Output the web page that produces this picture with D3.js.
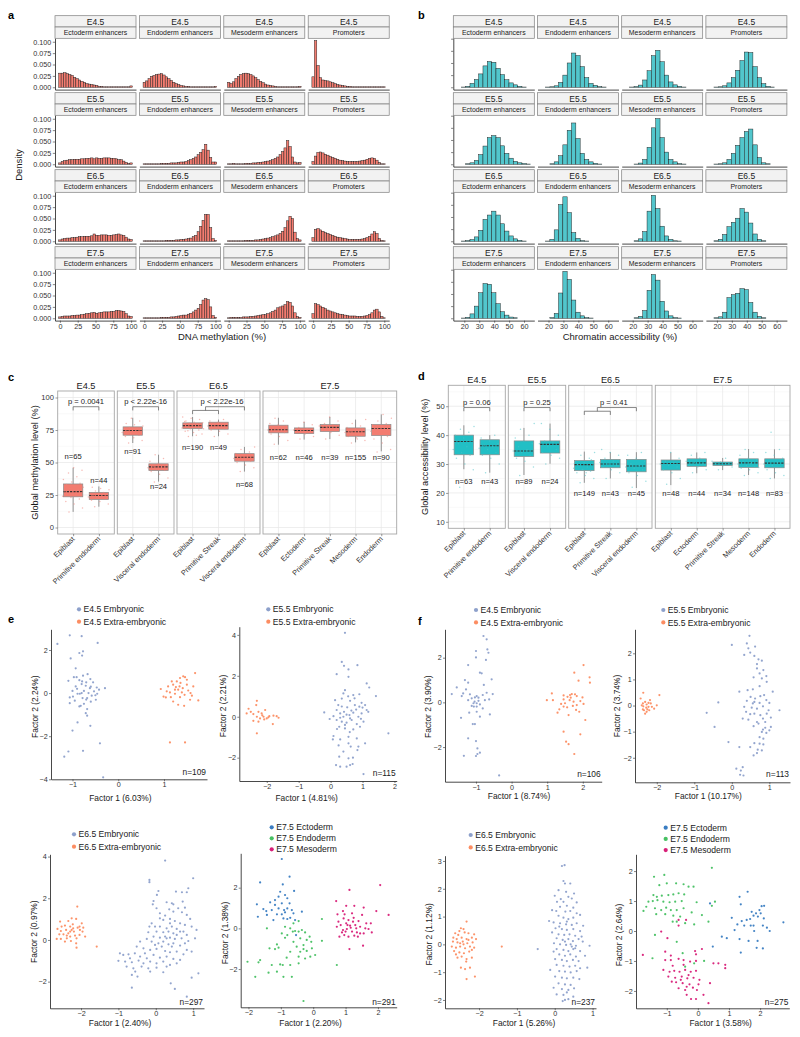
<!DOCTYPE html>
<html><head><meta charset="utf-8">
<script src="https://cdn.jsdelivr.net/npm/d3@7"></script>
<style>body{margin:0;background:#fff}svg{display:block}</style>
</head><body><svg id="fig" width="800" height="1037"></svg>
<script>
// ================= DATA =================
const stages = ["E4.5","E5.5","E6.5","E7.5"];
const contexts = ["Ectoderm enhancers","Endoderm enhancers","Mesoderm enhancers","Promoters"];

// Panel a: DNA methylation density, 30 bins over 0-100
const metTicks = [0,25,50,75,100];
const metDensTicks = [0,0.025,0.05,0.075,0.1];
const metE4_5 = [
 [0.031,0.031,0.032,0.030,0.028,0.026,0.022,0.019,0.016,0.013,0.011,0.008,0.007,0.006,0.005,0.004,0.002,0.002,0.001,0.001,0.001,0.001,0.001,0.001,0.001,0.001,0.001,0.001,0.001,0.003],
 [0.011,0.014,0.019,0.024,0.026,0.028,0.029,0.030,0.027,0.023,0.019,0.015,0.011,0.008,0.006,0.004,0.003,0.002,0.002,0.001,0.001,0.001,0.001,0.001,0.001,0.001,0.001,0.001,0.001,0.002],
 [0.011,0.008,0.012,0.019,0.024,0.028,0.030,0.031,0.030,0.028,0.025,0.021,0.017,0.013,0.010,0.007,0.005,0.004,0.003,0.002,0.001,0.001,0.001,0.001,0.001,0.001,0.001,0.001,0.001,0.002],
 [0.023,0.1025,0.048,0.021,0.016,0.015,0.014,0.012,0.010,0.008,0.006,0.005,0.004,0.003,0.002,0.002,0.001,0.001,0.001,0.001,0.001,0.001,0.001,0.001,0.001,0.001,0.001,0.001,0.001,0.001]];
const metE5_5 = [
 [0.003,0.006,0.008,0.009,0.010,0.010,0.011,0.011,0.011,0.012,0.012,0.013,0.013,0.014,0.012,0.014,0.013,0.013,0.014,0.014,0.014,0.013,0.013,0.012,0.010,0.010,0.007,0.004,0.002,0.003],
 [0.001,0.001,0.001,0.001,0.001,0.001,0.001,0.002,0.002,0.002,0.002,0.003,0.003,0.003,0.004,0.005,0.005,0.006,0.008,0.010,0.013,0.016,0.021,0.026,0.032,0.044,0.031,0.015,0.005,0.005],
 [0.001,0.001,0.002,0.001,0.001,0.001,0.001,0.002,0.002,0.002,0.003,0.003,0.004,0.004,0.005,0.006,0.007,0.008,0.010,0.013,0.016,0.021,0.028,0.036,0.052,0.039,0.016,0.005,0.003,0.004],
 [0.006,0.018,0.026,0.027,0.025,0.022,0.020,0.017,0.015,0.013,0.011,0.009,0.008,0.007,0.006,0.006,0.006,0.006,0.006,0.007,0.008,0.009,0.011,0.013,0.014,0.013,0.009,0.004,0.001,0.001]];
const metE6_5 = [
 [0.003,0.005,0.006,0.007,0.007,0.008,0.008,0.009,0.010,0.010,0.011,0.011,0.011,0.012,0.016,0.013,0.013,0.014,0.014,0.014,0.013,0.013,0.014,0.015,0.016,0.014,0.013,0.009,0.005,0.004],
 [0.001,0.001,0.001,0.001,0.001,0.001,0.001,0.001,0.001,0.002,0.002,0.002,0.002,0.003,0.003,0.004,0.004,0.005,0.006,0.007,0.010,0.013,0.021,0.033,0.046,0.059,0.059,0.030,0.006,0.002],
 [0.001,0.001,0.001,0.001,0.001,0.001,0.001,0.002,0.002,0.002,0.002,0.003,0.003,0.004,0.005,0.006,0.007,0.008,0.010,0.012,0.014,0.017,0.022,0.030,0.045,0.055,0.050,0.020,0.006,0.003],
 [0.008,0.026,0.028,0.025,0.022,0.019,0.017,0.015,0.013,0.011,0.009,0.008,0.007,0.006,0.005,0.004,0.004,0.004,0.004,0.004,0.005,0.006,0.008,0.011,0.016,0.021,0.017,0.006,0.002,0.001]];
const metE7_5 = [
 [0.003,0.004,0.005,0.005,0.005,0.006,0.006,0.007,0.007,0.008,0.009,0.010,0.011,0.012,0.013,0.011,0.012,0.013,0.014,0.014,0.014,0.015,0.015,0.017,0.017,0.016,0.015,0.010,0.005,0.004],
 [0.001,0.001,0.001,0.001,0.001,0.001,0.001,0.002,0.002,0.002,0.002,0.003,0.003,0.004,0.005,0.006,0.007,0.007,0.009,0.011,0.014,0.018,0.022,0.030,0.040,0.043,0.041,0.025,0.006,0.002],
 [0.001,0.002,0.002,0.002,0.002,0.002,0.003,0.003,0.003,0.004,0.004,0.005,0.006,0.007,0.008,0.008,0.010,0.012,0.015,0.018,0.023,0.025,0.027,0.030,0.037,0.035,0.027,0.012,0.004,0.002],
 [0.010,0.032,0.030,0.027,0.024,0.021,0.018,0.016,0.014,0.012,0.010,0.009,0.008,0.007,0.006,0.005,0.005,0.005,0.004,0.004,0.004,0.005,0.006,0.008,0.012,0.018,0.020,0.014,0.004,0.001]];

// Panel b: chromatin accessibility density, 17 bins of width 2.9 from 15.1
const accTicks = [20,30,40,50,60];
const accDensTicks = [0,0.05,0.1,0.15,0.2];
const accE4_5 = [
 [0,0.001,0.004,0.016,0.032,0.055,0.088,0.106,0.103,0.078,0.052,0.031,0.018,0.010,0.004,0.001,0],
 [0,0.001,0.002,0.006,0.020,0.050,0.100,0.141,0.131,0.085,0.040,0.016,0.008,0.003,0.001,0,0],
 [0,0.001,0.003,0.009,0.030,0.068,0.130,0.152,0.105,0.050,0.022,0.010,0.004,0.001,0,0,0],
 [0,0.001,0.002,0.006,0.018,0.040,0.070,0.110,0.145,0.143,0.085,0.040,0.015,0.004,0.001,0,0]];
const accE5_5 = [
 [0,0,0.002,0.006,0.016,0.040,0.075,0.110,0.118,0.110,0.076,0.045,0.025,0.012,0.006,0.003,0.001],
 [0,0,0.002,0.010,0.035,0.080,0.140,0.170,0.106,0.045,0.020,0.010,0.004,0.001,0,0,0],
 [0,0,0.001,0.005,0.020,0.070,0.150,0.188,0.110,0.050,0.020,0.010,0.003,0.001,0,0,0],
 [0,0.001,0.002,0.006,0.020,0.045,0.078,0.110,0.135,0.145,0.080,0.028,0.006,0.002,0,0,0]];
const accE6_5 = [
 [0,0.001,0.003,0.007,0.018,0.045,0.090,0.108,0.124,0.108,0.072,0.042,0.022,0.010,0.004,0.001,0],
 [0,0.001,0.008,0.047,0.151,0.183,0.118,0.036,0.012,0.003,0.001,0,0,0,0,0,0],
 [0,0,0.002,0.010,0.040,0.124,0.189,0.135,0.062,0.022,0.008,0.002,0.001,0,0,0,0],
 [0,0.002,0.008,0.028,0.060,0.078,0.095,0.135,0.120,0.075,0.030,0.008,0.002,0,0,0,0]];
const accE7_5 = [
 [0,0.001,0.004,0.018,0.050,0.105,0.143,0.140,0.105,0.060,0.027,0.013,0.005,0.002,0,0,0],
 [0,0,0.003,0.020,0.104,0.193,0.160,0.075,0.025,0.010,0.003,0.001,0,0,0,0,0],
 [0,0,0.002,0.008,0.032,0.115,0.180,0.157,0.070,0.030,0.010,0.003,0.001,0,0,0,0],
 [0,0.002,0.006,0.025,0.085,0.097,0.103,0.122,0.118,0.065,0.025,0.008,0.002,0,0,0,0]];

// Panels c, d: boxplots
const boxStages = ["E4.5","E5.5","E6.5","E7.5"];
const boxCats = [["Epiblast","Primitive endoderm"],["Epiblast","Visceral endoderm"],["Epiblast","Primitive Streak","Visceral endoderm"],["Epiblast","Ectoderm","Primitive Streak","Mesoderm","Endoderm"]];
// [lower whisker, q1, median, q3, upper whisker]
const metBoxStats = [[12,23.6,27.6,33.5,46],[16,21.6,24.6,27,31.6],[65,71,74.6,77.4,84.4],[35.3,43.8,46.6,49,56],[70.2,76.1,78.4,80.5,85],[70.2,75.6,78.4,81,83],[43,51,54,56.8,62],[63.7,72.8,75.2,78.7,84.4],[67.6,72.2,74.6,76.6,81.3],[68,73.8,77,79.2,85],[65.5,70.2,73.6,76.6,83],[58.6,70.7,76.2,79.2,87]];
const metN = [65,44,91,24,190,49,68,62,46,39,155,90];
const metNLabelY = [54.5,36.5,58.3,31.6,62,62,33.5,54.2,54.2,54.2,54.2,54.2];
const metPts = [
 [12,15,18,20,22,23,24,25,26,27,27.5,28,29,30,31,32,33,34,35,37,39,42,44,46],
 [16,18,20,21,22,23,23.5,24,24.5,25,25.5,26,27,28,29,30,31],
 [65,67,69,70,71,72,73,73.5,74,74.5,75,75.5,76,77,78,79,80,82,84],
 [35,38,41,43,44,45,46,46.5,47,48,49,51,53,56],
 [70,72,73,74,75,76,76.5,77,77.5,78,78.5,79,79.5,80,80.5,81,82,83,84,85,71,74.5,78,79,81.5,77,80,76],
 [70,72,74,75,76,77,78,78.5,79,80,81,82,83],
 [43,46,48,50,51,52,53,54,55,55.5,56,57,58,60,62],
 [64,67,70,72,73,74,75,76,77,78,79,80,82,84],
 [68,70,72,73,74,74.5,75,76,77,79,81],
 [68,71,73,75,76,77,78,79,80,82,85],
 [65,67,69,70,71,72,73,73.5,74,75,76,77,78,80,83,68,72.5,75.5],
 [58,60,65,68,70,72,74,75,76,77,78,79,80,82,84,87]];
const metP = ["p = 0.0041","p < 2.22e-16","p < 2.22e-16"];
const metTicksY = [0,25,50,75,100];

const accBoxStats = [[28.2,33.2,37.8,40,43.4],[27,33.2,36.3,38.4,40],[26.2,32.6,34.5,38,42.5],[30.1,33.8,36.8,38,44],[23.5,27.7,29.8,31.2,34.3],[25,28.7,30,31.6,34.1],[21.7,27.3,29.3,31.6,34.1],[22.7,27.9,30.2,31.4,34],[26.8,29.2,30.4,31.8,34],[27.9,29.5,30.1,30.7,32.1],[26.2,28.8,30.4,31.8,35.2],[25,28.7,30.3,31.8,35.1]];
const accN = [63,43,89,24,149,43,45,48,44,34,148,83];
const accNLabelY = [23.9,23.9,23.9,23.9,19.8,19.8,19.8,19.8,19.8,19.8,19.8,19.8];
const accPts = [
 [22,28,30,32,33,34,35,36,37,38,39,40,41,42,43],
 [27,30,32,33,34,35,35.5,36,36.5,37,38,39,40],
 [26,29,31,32,33,34,34.5,35,36,37,38,39,40,42,44],
 [30,32,33,34,35,36,37,37.5,38,40,42,44],
 [23.5,25,26,27,27.5,28,28.5,29,29.5,30,30.5,31,32,33,34,27,29.8,31.5,28.2,30.2],
 [25,27,28,29,29.5,30,30.5,31,32,33,34,35],
 [22,24,26,27,28,28.5,29,29.5,30,31,32,33,34],
 [23,25,27,28,29,29.5,30,30.5,31,32,34],
 [27,28,29,29.5,30,30.5,31,32,33,34],
 [28,29,29.5,30,30.3,30.7,31,32],
 [26,27,28,28.5,29,29.5,30,30.5,31,31.5,32,33,34,35,28.8,30.2],
 [25,26,27,28,29,29.5,30,30.5,31,32,33,34,35,41]];
const accP = ["p = 0.06","p = 0.25","p = 0.41"];
const accTicksY = [10,20,30,40,50];

// Panels e, f: factor scatter plots
const eE45Emb = [[-1.33,2.28],[-1.06,2.68],[-0.8,2.64],[-0.45,2.33],[-0.77,1.94],[-0.85,1.86],[-0.79,1.74],[-1.04,1.61],[-0.93,1.15],[-0.97,0.74],[-0.91,0.74],[-1.09,0.57],[-0.77,0.81],[-0.67,0.88],[-0.61,0.65],[-0.79,0.54],[-0.8,0.42],[-0.93,0.31],[-0.71,0.34],[-0.62,0.23],[-0.47,0.26],[-0.29,0.23],[-0.42,0.16],[-0.53,0.08],[-0.84,-0.03],[-0.89,-0.03],[-1.06,-0.2],[-0.99,-0.16],[-0.78,-0.23],[-0.68,-0.23],[-0.58,-0.12],[-0.46,-0.03],[-0.49,-0.31],[-1.06,-0.47],[-0.82,-0.59],[-0.85,-0.62],[-0.68,-0.74],[-0.71,-0.93],[-0.68,-1.05],[-0.89,-1.36],[-0.61,-1.52],[-1.0,-1.74],[-0.4,-2.33],[-1.09,-2.71],[-1.18,-2.95],[-0.77,-2.68],[-0.33,-3.91],[-0.7,0.5],[-0.75,0.1],[-0.9,0.2],[-0.6,-0.4],[-0.55,0.5],[-0.95,-0.35],[-0.7,-0.3],[-0.8,0.0],[-0.65,0.0],[-0.85,0.6],[-1.0,0.1],[-0.5,-0.1],[-0.75,-0.5],[-0.6,0.3]];
const eE45Ext = [[0.93,0.19],[0.99,-0.16],[1.04,-0.2],[1.13,0.03],[1.17,0.54],[1.2,0.39],[1.26,0.28],[1.31,0.16],[1.24,-0.03],[1.35,0.7],[1.42,0.78],[1.46,0.74],[1.36,0.47],[1.41,0.23],[1.5,0.39],[1.53,0.12],[1.58,0],[1.45,-0.08],[1.35,-0.19],[1.2,-0.39],[1.31,-0.54],[1.44,-0.59],[1.57,-0.31],[1.68,0.93],[1.75,-0.34],[1.64,0.31],[1.09,0.31],[1.06,0.08],[1.15,-0.19],[1.28,0.54],[1.5,0.62],[1.39,0.03],[1.13,-2.29],[1.46,-2.29],[1.24,0.16],[1.61,-0.12],[1.34,0.31]];
const eE55Emb = [[0.45,4.1],[0.35,2.68],[0.42,2.49],[0.56,2.31],[0.19,2.08],[0.84,2.52],[0.56,1.95],[1.13,1.63],[1.21,1.43],[1.42,1.01],[0.45,1.3],[0.4,1.14],[0.71,1.06],[0.14,0.81],[0.35,0.89],[0.61,0.78],[0.97,0.68],[1.08,0.57],[0.9,0.49],[1.13,0.33],[0.76,0.57],[0.52,0.46],[0.24,0.57],[0.19,0.33],[-0.2,0.21],[-0.03,-0.11],[0.09,0.03],[0.3,0.16],[0.42,0.24],[0.59,0.08],[0.71,0.2],[0.87,0],[0.97,0.16],[1.18,0.24],[0.19,-0.16],[0.35,-0.24],[0.5,-0.29],[0.66,-0.16],[0.82,-0.36],[1.03,-0.24],[0.27,-0.49],[0.45,-0.57],[0.71,-0.62],[0.92,-0.49],[0.09,-0.94],[0.3,-1.11],[0.56,-0.98],[0.82,-1.06],[1.08,-1.3],[0.07,-1.11],[0.56,-1.3],[0.63,-1.46],[0.84,-1.63],[0.87,-1.46],[0.27,-1.95],[0.56,-2.03],[0.17,-2.36],[0.3,-2.44],[0.5,-2.44],[0.61,-2.36],[0.69,-2.31],[1.03,-2.8],[1.81,-0.81],[0.5,0.1],[0.65,0.3],[0.3,-0.05],[0.8,0.35],[0.45,-0.4],[0.95,-0.1],[0.2,-0.6],[0.6,-0.75],[0.75,0.9],[0.35,0.5],[0.55,1.0],[0.9,1.1],[0.25,-1.4],[0.7,-2.0],[0.4,-1.7],[1.0,0.45],[0.4,0.0],[0.61,-0.08]];
const eE55Ext = [[-2.57,0.39],[-2.5,0.24],[-2.63,0.16],[-2.31,0.78],[-2.33,0.57],[-2.26,0.24],[-2.31,0],[-2.42,-0.2],[-2.16,0.16],[-2.1,0],[-2.05,0.33],[-2.0,-0.08],[-1.92,0.03],[-1.79,0.05],[-1.69,0.03],[-1.63,-0.05],[-1.81,-0.36],[-2.31,-0.81],[-2.21,-0.08],[-2.08,-0.13],[-1.95,-0.03],[-2.26,-0.24],[-2.42,0.13],[-2.14,0.07]];
const eE65Emb = [[0.25,3.81],[1.0,2.96],[-0.17,2.88],[-0.17,2.77],[0.07,2.35],[0.54,2.32],[0.83,2.29],[0.7,2.29],[0.87,2.48],[0.03,2.16],[-0.06,1.87],[-0.08,1.71],[0.29,1.81],[0.43,1.76],[0.47,1.71],[0.72,1.84],[0.78,1.55],[0.6,1.52],[0.36,1.47],[0.11,1.28],[0.25,1.17],[0.47,1.36],[0.7,1.33],[0.83,1.2],[0.92,1.01],[-0.11,0.8],[-0.17,0.64],[0.2,0.96],[0.38,1.01],[0.51,0.91],[0.65,0.8],[0.78,0.72],[0.96,0.64],[1.09,0.48],[0.11,0.64],[0.29,0.56],[0.43,0.64],[0.56,0.53],[0.02,0.4],[0.2,0.37],[0.34,0.4],[0.47,0.32],[0.65,0.4],[0.83,0.24],[-0.06,0.16],[0.11,0.11],[0.25,0.16],[0.38,0.11],[0.51,0.05],[0.69,0.08],[0.87,-0.05],[1.05,0.08],[-0.24,0.05],[-0.11,-0.08],[0.07,-0.16],[0.2,-0.08],[0.34,-0.21],[0.47,-0.16],[0.65,-0.27],[0.78,-0.16],[-0.42,-0.08],[-0.51,-0.32],[-0.33,-0.4],[-0.15,-0.48],[0.02,-0.43],[0.25,-0.53],[0.38,-0.59],[0.56,-0.56],[0.74,-0.69],[0.96,-0.56],[-0.56,-0.64],[-0.73,-0.69],[-0.87,-0.72],[-0.69,-0.88],[-0.42,-0.8],[-0.24,-0.88],[-0.06,-0.72],[0.11,-0.85],[0.29,-0.8],[0.47,-0.91],[0.65,-0.96],[-1.0,-1.0],[-0.82,-1.04],[-0.64,-1.07],[-0.46,-0.99],[-0.33,-1.12],[-0.15,-1.04],[0.02,-1.12],[0.2,-1.04],[0.38,-1.2],[0.56,-1.12],[-0.78,-1.28],[-0.6,-1.36],[-0.38,-1.28],[-0.2,-1.36],[0.02,-1.33],[0.29,-1.28],[-0.55,-1.52],[-0.64,-1.68],[-0.49,-1.76],[-0.15,-1.52],[0.2,-1.55],[-0.64,-2.29],[0.4,-2.08],[0.51,-2.35],[0.96,-1.81],[1.14,-1.6],[0.83,-2.72],[-0.96,-0.64],[-0.02,0.64],[-0.2,0.37],[0.56,0.24],[0.29,0.08],[0.43,-0.32],[0.16,-0.32],[0.83,-0.48],[-0.02,-0.24],[-0.29,-0.64],[0.74,0.4],[0.38,0.8],[0.11,1.04],[0.02,1.52]];
const eE65Ext = [[-2.1,1.6],[-2.56,0.88],[-2.34,0.91],[-2.25,1.04],[-2.13,1.01],[-1.98,0.8],[-2.43,0.69],[-2.29,0.64],[-2.21,0.56],[-2.09,0.59],[-2.63,0.53],[-2.54,0.43],[-2.4,0.48],[-2.29,0.4],[-2.25,0.48],[-2.19,0.4],[-2.03,0.48],[-1.96,0.4],[-2.47,0.27],[-2.34,0.32],[-2.16,0.21],[-1.89,0.16],[-2.65,0.05],[-2.54,0.05],[-2.38,0.08],[-2.27,-0.05],[-2.13,-0.16],[-2.43,-0.08],[-2.12,-0.37],[-1.58,-0.32],[-2.04,0.24],[-2.22,0.75],[-2.38,0.21],[-2.04,0.64],[-2.52,0.64],[-2.12,0.08],[-2.29,0.16],[-2.58,0.27],[-1.94,0.59]];
const eE75Ecto = [[-0.97,3.41],[-0.73,2.54],[-1.64,2.26],[-0.94,2.16],[-0.59,1.84],[-0.87,1.64],[-1.07,1.56],[-0.8,1.48],[-1.74,1.18],[-1.33,1.28],[-1.18,1.15],[-0.97,1.23],[-0.73,1.23],[-1.54,0.95],[-1.28,0.9],[-1.07,0.98],[-0.9,0.9],[-0.8,0.98],[-0.61,0.74],[-0.35,0.82],[-1.71,0.57],[-1.43,0.66],[-1.23,0.41],[-0.92,0.49],[-0.8,0.46],[-0.71,0.52],[-0.56,0.41],[-0.97,0.69],[-1.12,0.69],[-1.45,0.85],[-0.53,-0.33],[-0.87,0.79],[-0.66,0.9],[-1.18,1.39],[-1.02,1.8]];
const eE75Endo = [[0.27,0.46],[-1.43,0],[-0.87,0.08],[-0.61,0.25],[-0.45,0.36],[-0.71,0],[-0.63,-0.16],[-0.56,-0.13],[-0.45,-0.16],[-0.35,-0.08],[-0.25,-0.2],[-0.11,-0.41],[0.27,-0.61],[-0.97,-0.25],[-0.87,-0.46],[-0.4,-0.49],[-0.2,-0.57],[-0.06,-0.66],[-1.12,-0.79],[-1.35,-0.98],[-1.18,-1.02],[-1.07,-0.95],[-0.51,-0.9],[-0.3,-1.02],[-0.04,-0.98],[-0.71,-1.15],[-0.4,-1.15],[-0.2,-1.11],[0.06,-1.31],[-0.45,-1.39],[-0.25,-1.48],[-0.09,-1.39],[-1.64,-1.56],[-1.69,-1.67],[-2.03,-1.64],[-1.28,-1.8],[-1.02,-1.77],[-0.94,-1.8],[-0.71,-1.8],[-0.45,-1.72],[0.73,-1.8],[-1.38,-2.18],[-1.12,-2.13],[-1.79,-2.38],[-0.92,-2.38],[-0.66,-2.38],[-0.3,-3.57],[-0.8,-0.33],[-0.61,-0.66],[-0.3,-0.82],[-0.82,-1.44]];
const eE75Meso = [[2.07,2.13],[1.12,1.89],[0.71,1.34],[1.02,1.11],[1.27,1.11],[1.56,1.02],[1.95,0.85],[2.33,0.66],[0.92,0.85],[1.2,0.74],[1.51,0.66],[0.94,0.49],[1.09,0.41],[1.25,0.52],[1.4,0.36],[1.78,0.25],[0.78,0.33],[0.85,0.16],[1.02,0.25],[1.14,0.13],[1.3,0.16],[1.45,0.08],[1.61,0],[1.71,-0.03],[1.81,-0.2],[0.73,0.08],[0.92,-0.08],[1.04,-0.03],[1.2,-0.16],[1.35,-0.2],[1.45,-0.25],[0.81,-0.41],[0.96,-0.33],[1.09,-0.41],[1.27,-0.36],[1.54,-0.85],[1.12,-1.02],[1.0,-0.16],[1.16,0.03],[1.33,0],[1.56,-0.25],[0.89,-0.2],[1.06,0.16],[1.23,0.33],[0.97,0.69],[1.38,-0.41],[1.64,0.25],[0.75,0.69]];

const fE45Emb = [[-0.79,2.97],[-0.7,2.82],[-0.68,2.37],[-0.65,2.22],[-1.0,2.3],[-1.0,2.01],[-0.72,1.9],[-1.22,1.67],[-0.89,1.33],[-0.84,1.3],[-1.31,1.0],[-0.56,1.03],[-1.22,0.88],[-1.54,0.67],[-1.28,0.58],[-0.78,0.78],[-1.68,0.37],[-1.36,0.4],[-1.4,0.28],[-0.98,0.28],[-1.03,0.22],[-0.93,0.21],[-0.81,0.33],[-0.7,0.43],[-0.53,0.37],[-0.75,0.1],[-0.63,0.13],[-1.22,0.1],[-1.07,-0.04],[-0.98,-0.04],[-1.12,-0.16],[-1.06,-0.19],[-0.98,-0.19],[-0.89,-0.09],[-1.19,-0.46],[-0.98,-0.42],[-0.89,-0.64],[-0.61,-0.54],[-1.42,-0.69],[-1.09,-0.97],[-1.03,-0.97],[-1.22,-1.61],[-1.0,-1.73],[-0.96,-2.06],[-0.89,-2.25],[-0.96,-2.31],[-1.34,-2.39],[-1.0,-2.4],[-0.35,-3.27],[-1.04,0.03],[-0.93,0.07],[-1.12,0.18],[-0.81,-0.27],[-1.17,0.36]];
const fE45Ext = [[2.02,1.67],[1.76,1.33],[2.19,1.12],[1.88,0.97],[2.2,0.88],[1.13,0.4],[0.99,0.1],[1.16,0.1],[1.46,0.31],[1.57,0.25],[1.64,0.33],[1.78,0.36],[1.83,0.28],[1.99,0.22],[1.46,0.13],[1.63,0.1],[1.74,0.03],[1.93,0.06],[1.5,-0.04],[1.46,-0.19],[1.56,-0.22],[1.72,-0.16],[1.29,-0.46],[1.6,-0.57],[1.9,-0.42],[1.81,-0.34],[2.07,-0.79],[1.46,-1.31],[1.93,-1.43],[1.53,-1.76],[1.6,-1.87],[1.76,-2.31],[1.66,0.21],[1.39,-0.07],[1.83,-0.12],[1.69,0.37],[2.02,-0.07],[1.34,-0.31]];
const fE55Emb = [[0.47,2.67],[0.0,2.32],[0.4,2.38],[0.44,2.19],[0.62,2.26],[0.33,1.94],[0.49,2.03],[0.6,1.9],[0.71,1.77],[0.8,1.72],[0.67,1.59],[0.67,1.42],[0.84,1.36],[0.74,1.23],[0.92,1.13],[0.58,1.08],[0.8,1.04],[0.93,0.91],[0.74,0.74],[0.56,0.62],[0.2,0.53],[1.09,0.53],[0.5,0.33],[0.62,0.27],[0.76,0.36],[0.86,0.4],[0.92,0.21],[-0.36,0.12],[0.4,0.18],[0.6,0.14],[0.74,0.1],[1.0,0.1],[0.33,-0.05],[0.53,-0.08],[0.67,-0.12],[0.83,-0.03],[0.98,-0.18],[1.27,-0.18],[0.38,-0.24],[0.49,-0.33],[0.6,-0.31],[0.76,-0.37],[0.93,-0.31],[-0.67,-0.28],[0.29,-0.5],[0.44,-0.54],[0.67,-0.63],[0.83,-0.5],[1.04,-0.46],[-0.46,-0.82],[0.58,-0.79],[0.83,-0.92],[0.89,-0.85],[1.04,-0.82],[0.8,-1.01],[0.92,-1.05],[1.0,-0.95],[0.74,-1.21],[0.84,-1.27],[0.6,-1.44],[0.74,-1.46],[0.84,-1.49],[0.49,-1.59],[0.69,-1.69],[0.8,-1.72],[0.58,-1.91],[0.67,-1.82],[-0.09,-1.4],[0.2,-1.59],[0.12,-2.42],[0.24,-2.49],[0.29,-2.36],[0.31,-2.68],[0.22,-2.65],[0.42,0.59],[0.56,0.08],[0.89,-0.63],[0.71,-0.69]];
const fE55Ext = [[-2.36,0.49],[-2.43,0.27],[-2.31,0.14],[-2.37,0.08],[-2.27,0.04],[-2.22,0.1],[-2.16,0.08],[-2.36,-0.03],[-2.28,-0.08],[-2.22,-0.05],[-2.13,-0.05],[-2.07,-0.12],[-2.0,0.01],[-2.34,-0.18],[-2.27,-0.24],[-2.31,-0.31],[-2.37,-0.15],[-1.93,0.4],[-2.18,0.21],[-2.25,-0.15],[-2.4,0.01],[-2.2,-0.18]];
const fE65Emb = [[0.26,2.85],[0.19,2.82],[0.23,2.28],[0.27,2.19],[0.41,2.19],[0.1,1.95],[0.3,1.89],[0.51,1.83],[0.0,1.75],[0.36,1.71],[0.45,1.65],[0.06,1.53],[0.23,1.53],[0.58,1.51],[0.14,1.35],[0.32,1.39],[0.49,1.32],[-0.07,1.23],[0.04,1.2],[0.28,1.18],[0.41,1.2],[0.58,1.12],[0.67,1.06],[0.1,1.03],[0.23,0.96],[0.36,0.91],[0.49,0.96],[-0.15,0.84],[-0.03,0.79],[0.14,0.76],[0.3,0.72],[0.45,0.7],[0.58,0.76],[0.75,0.67],[0.02,0.58],[0.19,0.55],[0.32,0.52],[0.49,0.55],[0.67,0.48],[-0.07,0.43],[0.1,0.36],[0.25,0.34],[0.39,0.36],[0.54,0.31],[0.05,0.22],[0.21,0.16],[0.36,0.19],[0.48,0.12],[0.63,0.19],[0.74,0.1],[-0.02,0.04],[0.14,0.0],[0.3,-0.02],[0.42,0.0],[0.56,-0.05],[0.92,-0.05],[-0.45,-0.17],[0.05,-0.17],[0.23,-0.2],[0.36,-0.24],[0.49,-0.17],[0.67,-0.24],[0.12,-0.36],[0.27,-0.41],[0.41,-0.36],[0.56,-0.44],[0.01,-0.53],[0.19,-0.56],[0.32,-0.6],[0.48,-0.56],[0.63,-0.6],[0.05,-0.74],[0.23,-0.77],[0.39,-0.8],[0.54,-0.77],[0.86,-0.84],[0.12,-0.96],[0.27,-0.98],[0.42,-1.01],[0.58,-0.96],[0.01,-1.16],[0.19,-1.2],[0.32,-1.22],[0.49,-1.2],[0.65,-1.25],[0.1,-1.4],[0.27,-1.44],[0.42,-1.46],[-0.03,-1.56],[0.19,-1.61],[0.36,-1.64],[0.51,-1.58],[0.05,-1.8],[0.23,-1.82],[0.32,-1.73],[0.21,-2.04],[0.27,-2.0],[0.36,-1.97],[0.49,-1.88],[0.54,-0.14],[-0.03,-0.26],[0.71,0.28],[0.32,0.82],[0.16,1.63],[0.45,-0.08],[0.27,0.1],[0.12,0.64],[0.8,-0.41],[0.67,-0.86],[-0.12,-0.92]];
const fE65Ext = [[-2.33,0.82],[-2.48,0.58],[-2.41,0.55],[-2.52,0.48],[-2.38,0.43],[-2.63,0.4],[-2.55,0.34],[-2.28,0.4],[-2.13,0.36],[-2.68,0.24],[-2.59,0.19],[-2.46,0.24],[-2.33,0.19],[-2.19,0.24],[-2.08,0.19],[-2.69,0.1],[-2.57,0.07],[-2.43,0.1],[-2.31,0.04],[-2.17,0.07],[-2.72,-0.08],[-2.61,-0.12],[-2.5,-0.08],[-2.37,-0.14],[-2.24,-0.08],[-2.13,-0.12],[-2.66,-0.24],[-2.52,-0.29],[-2.4,-0.32],[-2.26,-0.26],[-2.57,-0.48],[-2.46,-0.44],[-2.33,-0.53],[-2.19,-0.48],[-2.34,-0.62],[-2.48,-0.84],[-2.37,-0.89],[-2.24,-0.84],[-2.11,-1.16],[-2.33,-1.25],[-1.4,-0.08],[-2.41,0.0],[-2.28,0.16],[-2.5,0.04],[-2.19,-0.2],[-2.61,-0.36]];
const fE75Ecto = [[1.6,1.31],[1.34,1.14],[1.38,0.89],[1.73,0.64],[1.87,0.59],[2.02,0.59],[1.98,0.7],[2.05,0.83],[2.13,0.84],[1.79,0.51],[1.93,0.48],[2.12,0.42],[1.09,0.44],[1.41,0.33],[1.68,0.4],[1.27,0.22],[1.49,0.18],[1.79,0.18],[2.09,0.18],[2.22,0.11],[2.31,0.0],[2.75,0.29],[1.18,0.03],[1.81,0.0],[1.34,-0.27],[1.63,-0.33],[1.92,-0.33],[1.38,-0.72],[1.89,-0.56],[2.09,-0.58],[0.77,-0.19],[0.93,-0.24],[0.48,-0.52],[0.39,0.92],[1.57,0.37],[1.7,0.18]];
const fE75Endo = [[0.45,2.11],[-1.41,1.81],[-1.08,1.87],[-1.24,1.53],[-1.0,1.59],[-0.7,1.59],[-0.46,1.56],[-0.3,1.48],[-0.14,1.48],[-1.43,1.2],[-1.32,1.14],[-1.16,1.18],[-0.95,1.2],[-0.79,1.22],[-0.62,1.26],[-0.44,1.22],[-1.59,0.98],[-1.45,1.0],[-1.3,1.03],[-1.11,0.98],[-0.91,0.96],[-0.73,0.98],[-0.52,1.0],[-0.04,0.96],[0.55,0.98],[0.45,0.84],[-1.66,0.81],[-1.75,0.67],[-1.38,0.76],[-1.18,0.7],[-1.02,0.78],[-0.87,0.7],[-0.68,0.7],[-0.46,0.76],[-0.2,0.62],[0.13,0.53],[-1.34,0.56],[-1.05,0.56],[-0.79,0.51],[-0.57,0.48],[-0.81,0.31],[-0.68,0.31],[-0.41,0.26],[-0.12,0.22],[0.34,0.31],[-1.38,-0.13],[-0.68,-0.36],[-0.49,-0.74],[-1.46,-0.91],[-0.41,-1.19],[0.2,-1.0],[-0.12,-1.08]];
const fE75Meso = [[-0.62,0.37],[-0.38,0.37],[-0.62,0.18],[-1.18,-0.02],[-0.98,-0.24],[-1.77,-0.8],[-0.09,-0.67],[0.13,-0.6],[-0.06,-0.78],[-1.05,-0.69],[-0.87,-0.82],[-1.05,-0.97],[-0.87,-0.97],[-0.62,-0.93],[-0.46,-0.97],[-0.25,-1.02],[-0.06,-1.0],[0.66,-1.08],[0.88,-1.24],[0.88,-1.13],[0.5,-1.08],[-1.11,-1.3],[-0.91,-1.36],[-0.76,-1.33],[-0.59,-1.36],[-0.41,-1.3],[-0.23,-1.36],[-0.06,-1.33],[-0.95,-1.52],[-0.73,-1.56],[-0.52,-1.52],[-0.34,-1.58],[-0.14,-1.56],[0.05,-1.63],[-0.7,-1.71],[-0.49,-1.74],[-0.27,-1.78],[0.02,-1.78],[0.39,-1.74],[-0.62,-1.91],[-0.41,-1.97],[-0.16,-1.89],[-0.36,-2.13],[-0.22,-2.27],[-0.06,-2.27],[0.18,-2.13],[0.34,-2.41],[-0.46,-1.13],[-0.81,-1.16],[-0.3,-1.47],[-0.55,-1.63],[-0.84,-1.69],[-0.03,-1.97],[-0.36,-1.86]];

const colEmb = "#8DA0CB", colExt = "#FC8D62", colEcto = "#3A7DC2", colEndo = "#46C062", colMeso = "#D81F78";

// ================= DRAWING =================
const FONT = '"Liberation Sans", Arial, Helvetica, sans-serif';
const svg = d3.select("#fig").attr("font-family", FONT);

function txt(g, x, y, s, size, opt = {}) {
  const t = g.append("text").attr("x", x).attr("y", y).text(s)
    .attr("font-size", size).attr("fill", opt.fill || "#1a1a1a")
    .attr("text-anchor", opt.anchor || "start");
  if (opt.weight) t.attr("font-weight", opt.weight);
  if (opt.rotate !== undefined) t.attr("transform", `rotate(${opt.rotate},${x},${y})`);
  return t;
}
function styleAxis(g, fs) {
  g.selectAll("text").attr("font-size", fs).attr("fill", "#333").attr("font-family", FONT);
  g.selectAll(".tick line").attr("stroke", "#333").attr("stroke-width", 0.6);
  g.select(".domain").attr("stroke", "#1a1a1a").attr("stroke-width", 0.8);
}

// ---------- histograms (a, b) ----------
function drawHist(o) {
  const g = svg.append("g");
  o.data.forEach((row, r) => {
    const stripTop = 15.7 + r * 77, top = stripTop + 22.6, bottom = top + 51.3;
    row.forEach((vals, c) => {
      const left = o.left0 + c * o.pitch, w = 81;
      g.append("rect").attr("x", left).attr("y", stripTop).attr("width", w).attr("height", 11.3)
        .attr("fill", "#f2f2f2").attr("stroke", "#7d7d7d").attr("stroke-width", 0.7);
      g.append("rect").attr("x", left).attr("y", stripTop + 11.3).attr("width", w).attr("height", 11.3)
        .attr("fill", "#f2f2f2").attr("stroke", "#7d7d7d").attr("stroke-width", 0.7);
      txt(g, left + w / 2, stripTop + 8.8, stages[r], 8.5, { anchor: "middle" });
      txt(g, left + w / 2, stripTop + 11.3 + 8.2, contexts[c], 6.9, { anchor: "middle" });
      const x = d3.scaleLinear().domain(o.xDom).range([left, left + w]);
      const y = d3.scaleLinear().domain(o.yDom).range([bottom, top]);
      g.append("g").selectAll("rect").data(vals).join("rect")
        .attr("x", (d, i) => x(o.binStart + i * o.binW))
        .attr("width", x(o.binStart + o.binW) - x(o.binStart))
        .attr("y", d => y(d)).attr("height", d => y(0) - y(d))
        .attr("fill", o.fill).attr("stroke", "#1a1a1a").attr("stroke-width", 0.45);
      const ax = g.append("g").attr("transform", `translate(0,${bottom})`)
        .call(d3.axisBottom(x).tickValues(o.xTicks).tickSize(r === 3 ? 2.2 : 0).tickSizeOuter(0)
          .tickPadding(1.5).tickFormat(r === 3 ? d3.format("d") : ""));
      styleAxis(ax, 7.2);
      if (c === 0) {
        const ay = g.append("g").attr("transform", `translate(${left},0)`)
          .call(d3.axisLeft(y).tickValues(o.yTicks).tickSize(2.2).tickSizeOuter(0).tickPadding(1.5)
            .tickFormat(o.yLabels ? d3.format(".3f") : ""));
        styleAxis(ay, 7.2);
      }
    });
  });
}
svg.append("text").attr("x", 8).attr("y", 19).text("a").attr("font-size", 11).attr("font-weight", "bold");
svg.append("text").attr("x", 418).attr("y", 19).text("b").attr("font-size", 11).attr("font-weight", "bold");
drawHist({ data: [metE4_5, metE5_5, metE6_5, metE7_5], left0: 55, pitch: 84.4,
  binStart: -100 / 58, binW: 100 / 29, xDom: [-6.9, 106.9], yDom: [-0.005125, 0.1076],
  xTicks: metTicks, yTicks: metDensTicks, yLabels: true, fill: "#F37C70" });
drawHist({ data: [accE4_5, accE5_5, accE6_5, accE7_5], left0: 453.3, pitch: 84.2,
  binStart: 15.1, binW: 2.9, xDom: [12.635, 66.865], yDom: [-0.0096, 0.2016],
  xTicks: accTicks, yTicks: accDensTicks, yLabels: false, fill: "#52C6CC" });
txt(svg, 22, 165, "Density", 9.5, { anchor: "middle", rotate: -90 });
txt(svg, 222, 340, "DNA methylation (%)", 9.5, { anchor: "middle" });
txt(svg, 620, 340, "Chromatin accessibility (%)", 9.5, { anchor: "middle" });

// ---------- boxplots (c, d) ----------
function drawBox(o) {
  const g = svg.append("g");
  const y = d3.scaleLinear().domain(o.yDom).range([o.bottom, o.top]);
  let k = 0;
  boxCats.forEach((cats, f) => {
    const L = o.lefts[f], Wd = o.widths[f];
    const x = d3.scalePoint().domain(cats).range([L, L + Wd]).padding(0.6);
    const step = x.step();
    o.minor.forEach(v => g.append("line").attr("x1", L).attr("x2", L + Wd).attr("y1", y(v)).attr("y2", y(v)).attr("stroke", "#f3f3f3").attr("stroke-width", 0.5));
    o.major.forEach(v => g.append("line").attr("x1", L).attr("x2", L + Wd).attr("y1", y(v)).attr("y2", y(v)).attr("stroke", "#e6e6e6").attr("stroke-width", 0.7));
    cats.forEach(c => g.append("line").attr("x1", x(c)).attr("x2", x(c)).attr("y1", o.top).attr("y2", o.bottom).attr("stroke", "#e6e6e6").attr("stroke-width", 0.7));
    txt(g, L + Wd / 2, o.titleY, boxStages[f], 9.2, { anchor: "middle" });
    cats.forEach((c, j) => {
      const s = o.stats[k], cx = x(c), bw = step * 0.75;
      g.append("line").attr("x1", cx).attr("x2", cx).attr("y1", y(s[0])).attr("y2", y(s[1])).attr("stroke", "#7a7a7a").attr("stroke-width", 0.8);
      g.append("line").attr("x1", cx).attr("x2", cx).attr("y1", y(s[3])).attr("y2", y(s[4])).attr("stroke", "#7a7a7a").attr("stroke-width", 0.8);
      g.append("rect").attr("x", cx - bw / 2).attr("y", y(s[3])).attr("width", bw).attr("height", y(s[1]) - y(s[3]))
        .attr("fill", o.fill).attr("stroke", "#8a8a8a").attr("stroke-width", 0.7);
      g.append("line").attr("x1", cx - bw / 2).attr("x2", cx + bw / 2).attr("y1", y(s[2])).attr("y2", y(s[2]))
        .attr("stroke", "#333").attr("stroke-width", 1.1).attr("stroke-dasharray", "2.2,1.1");
      g.append("g").selectAll("circle").data(o.pts[k]).join("circle")
        .attr("cx", (v, i) => cx + (((i * 0.618034 + 0.31) % 1) - 0.5) * step * 0.85)
        .attr("cy", v => y(v)).attr("r", 0.75).attr("fill", o.ptFill).attr("opacity", 0.55);
      txt(g, cx, y(o.nY[k]) + 2.6, "n=" + o.n[k], 7.6, { anchor: "middle" });
      k++;
    });
    g.append("rect").attr("x", L).attr("y", o.top).attr("width", Wd).attr("height", o.bottom - o.top)
      .attr("fill", "none").attr("stroke", "#a6a6a6").attr("stroke-width", 0.9);
    const ax = g.append("g").attr("transform", `translate(0,${o.bottom})`)
      .call(d3.axisBottom(x).tickSize(2.2).tickSizeOuter(0).tickFormat(""));
    styleAxis(ax, 7.4);
    ax.select(".domain").remove();
    ax.selectAll(".tick line").attr("stroke", "#555");
    cats.forEach(c => txt(g, x(c) + 2, o.bottom + 5.5, c, 7.4, { anchor: "end", rotate: -45, fill: "#333" }));
    // p-value brackets
    if (f < 3) {
      const yb = y(o.brY), d = 3.7, pc = "#555";
      const line = (x1, y1, x2, y2) => g.append("line").attr("x1", x1).attr("x2", x2).attr("y1", y1).attr("y2", y2).attr("stroke", pc).attr("stroke-width", 0.7);
      if (cats.length === 2) {
        const a = x(cats[0]), b = x(cats[1]);
        line(a, yb, b, yb); line(a, yb, a, yb + d); line(b, yb, b, yb + d);
        txt(g, (a + b) / 2, yb - 2.6, o.p[f], 7.6, { anchor: "middle" });
      } else {
        const a = x(cats[0]), b = x(cats[1]), c3 = x(cats[2]), m = (a + b) / 2;
        line(a, yb + d, b, yb + d); line(a, yb + d, a, yb + 2 * d); line(b, yb + d, b, yb + 2 * d);
        line(m, yb, c3, yb); line(m, yb, m, yb + d); line(c3, yb, c3, yb + d);
        txt(g, (m + c3) / 2 - 3, yb - 2.6, o.p[f], 7.6, { anchor: "middle" });
      }
    }
  });
  const ay = g.append("g").attr("transform", `translate(${o.lefts[0]},0)`)
    .call(d3.axisLeft(y).tickValues(o.major).tickSize(2.2).tickSizeOuter(0).tickPadding(1.5));
  styleAxis(ay, 7.6);
  ay.select(".domain").remove();
  ay.selectAll(".tick line").attr("stroke", "#555");
  txt(g, o.ylabX, (o.top + o.bottom) / 2, o.ylab, 9.2, { anchor: "middle", rotate: -90 });
}
svg.append("text").attr("x", 8).attr("y", 381).text("c").attr("font-size", 11).attr("font-weight", "bold");
svg.append("text").attr("x", 418).attr("y", 380).text("d").attr("font-size", 11).attr("font-weight", "bold");
drawBox({ lefts: [57.7, 117.3, 177, 263], widths: [56.6, 56.7, 83, 133.7], top: 391, bottom: 534,
  yDom: [-5, 105], major: metTicksY, minor: [12.5, 37.5, 62.5, 87.5], titleY: 389,
  stats: metBoxStats, n: metN, nY: metNLabelY, pts: metPts, p: metP, brY: 92.9,
  fill: "#F37C70", ptFill: "#F0837A", ylab: "Global methylation level (%)", ylabX: 38 });
drawBox({ lefts: [448.3, 508.3, 568.7, 655.3], widths: [57, 57.4, 83.3, 134.7], top: 385.3, bottom: 528.3,
  yDom: [7.75, 57.25], major: accTicksY, minor: [15, 25, 35, 45, 55], titleY: 383,
  stats: accBoxStats, n: accN, nY: accNLabelY, pts: accPts, p: accP, brY: 49.55,
  fill: "#22BFC5", ptFill: "#4CC3C8", ylab: "Global accessibility level (%)", ylabX: 428 });

// ---------- scatter plots (e, f) ----------
function drawScatter(o) {
  const g = svg.append("g");
  const x = d3.scaleLinear().domain(o.xDom).range([o.box[0], o.box[1]]);
  const y = d3.scaleLinear().domain(o.yDom).range([o.box[3], o.box[2]]);
  const ax = g.append("g").attr("transform", `translate(0,${o.box[3]})`)
    .call(d3.axisBottom(x).tickValues(o.xTicks).tickSize(2).tickSizeOuter(0).tickPadding(0.8).tickFormat(d3.format("d")));
  styleAxis(ax, 7.2);
  const ay = g.append("g").attr("transform", `translate(${o.box[0]},0)`)
    .call(d3.axisLeft(y).tickValues(o.yTicks).tickSize(2).tickSizeOuter(0).tickPadding(1.2).tickFormat(d3.format("d")));
  styleAxis(ay, 7.2);
  g.selectAll(".tick text").text(function () { return this.textContent.replace("-", "\u2212"); });
  o.groups.forEach(gp => {
    g.append("g").selectAll("circle").data(gp.pts).join("circle")
      .attr("cx", d => x(d[0])).attr("cy", d => y(d[1])).attr("r", 1.1)
      .attr("fill", gp.color).attr("opacity", 0.95);
  });
  o.groups.forEach((gp, i) => {
    const ly = o.leg[1] + i * o.legStep;
    g.append("circle").attr("cx", o.leg[0]).attr("cy", ly).attr("r", 2.1).attr("fill", gp.color);
    txt(g, o.leg[0] + 4.5, ly + 3.1, gp.label, 8.6);
  });
  txt(g, o.box[1] - 1, o.nY, "n=" + o.n, 8.4, { anchor: "end" });
  txt(g, o.xlab[0], o.xlab[1] + 1, o.xt, 8.4, { anchor: "middle" });
  txt(g, o.ylab[0], o.ylab[1], o.yt, 8.4, { anchor: "middle", rotate: -90 });
}
svg.append("text").attr("x", 8).attr("y", 623).text("e").attr("font-size", 11).attr("font-weight", "bold");
svg.append("text").attr("x", 418).attr("y", 625).text("f").attr("font-size", 11).attr("font-weight", "bold");

drawScatter({ box: [51, 207, 629.3, 779.3], xDom: [-1.47, 1.94], yDom: [-4.0, 2.96], xTicks: [-1, 0, 1], yTicks: [-4, -2, 0, 2],
  groups: [{ pts: eE45Emb, color: colEmb, label: "E4.5 Embryonic" }, { pts: eE45Ext, color: colExt, label: "E4.5 Extra-embryonic" }],
  leg: [79, 609.3], legStep: 12.4, n: 109, nY: 774.5, xlab: [120.4, 799.5], ylab: [38, 706.7], xt: "Factor 1 (6.03%)", yt: "Factor 2 (2.24%)" });
drawScatter({ box: [239.3, 396.7, 626.7, 781], xDom: [-2.86, 2.07], yDom: [-3.14, 4.4], xTicks: [-2, -1, 0, 1, 2], yTicks: [-2, 0, 2, 4],
  groups: [{ pts: eE55Emb, color: colEmb, label: "E5.5 Embryonic" }, { pts: eE55Ext, color: colExt, label: "E5.5 Extra-embryonic" }],
  leg: [268.3, 609.3], legStep: 12.4, n: 115, nY: 776, xlab: [306.7, 799.5], ylab: [226, 706], xt: "Factor 1 (4.81%)", yt: "Factor 2 (2.21%)" });
drawScatter({ box: [50, 204, 854.3, 1008.3], xDom: [-2.83, 1.29], yDom: [-3.28, 4.11], xTicks: [-2, -1, 0, 1], yTicks: [-2, 0, 2, 4],
  groups: [{ pts: eE65Emb, color: colEmb, label: "E6.5 Embryonic" }, { pts: eE65Ext, color: colExt, label: "E6.5 Extra-embryonic" }],
  leg: [74, 834.3], legStep: 12.4, n: 297, nY: 1004.5, xlab: [120, 1024.5], ylab: [37, 931.7], xt: "Factor 1 (2.40%)", yt: "Factor 2 (0.97%)" });
drawScatter({ box: [240.7, 396.7, 853.3, 1007.3], xDom: [-2.24, 2.58], yDom: [-3.88, 3.69], xTicks: [-2, -1, 0, 1, 2], yTicks: [-2, 0, 2],
  groups: [{ pts: eE75Ecto, color: colEcto, label: "E7.5 Ectoderm" }, { pts: eE75Endo, color: colEndo, label: "E7.5 Endoderm" }, { pts: eE75Meso, color: colMeso, label: "E7.5 Mesoderm" }],
  leg: [271.7, 827.3], legStep: 11, n: 291, nY: 1005, xlab: [310.5, 1024.5], ylab: [227.5, 933], xt: "Factor 1 (2.20%)", yt: "Factor 2 (1.38%)" });

drawScatter({ box: [445, 601.7, 629.3, 781.7], xDom: [-1.87, 2.53], yDom: [-3.55, 3.27], xTicks: [-1, 0, 1, 2], yTicks: [-2, 0, 2],
  groups: [{ pts: fE45Emb, color: colEmb, label: "E4.5 Embryonic" }, { pts: fE45Ext, color: colExt, label: "E4.5 Extra-embryonic" }],
  leg: [476, 610], legStep: 12.4, n: 106, nY: 777, xlab: [519, 798], ylab: [431, 706.7], xt: "Factor 1 (8.74%)", yt: "Factor 2 (3.90%)" });
drawScatter({ box: [635, 790, 629.3, 782.3], xDom: [-2.58, 1.55], yDom: [-2.94, 2.92], xTicks: [-2, -1, 0, 1], yTicks: [-2, -1, 0, 1, 2],
  groups: [{ pts: fE55Emb, color: colEmb, label: "E5.5 Embryonic" }, { pts: fE55Ext, color: colExt, label: "E5.5 Extra-embryonic" }],
  leg: [663.3, 610], legStep: 12.4, n: 113, nY: 777, xlab: [708.3, 798], ylab: [620, 706], xt: "Factor 1 (10.17%)", yt: "Factor 2 (3.74%)" });
drawScatter({ box: [445, 596, 855.7, 1008.3], xDom: [-2.9, 1.09], yDom: [-2.3, 3.19], xTicks: [-2, -1, 0, 1], yTicks: [-2, -1, 0, 1, 2, 3],
  groups: [{ pts: fE65Emb, color: colEmb, label: "E6.5 Embryonic" }, { pts: fE65Ext, color: colExt, label: "E6.5 Extra-embryonic" }],
  leg: [470.7, 835], legStep: 12.4, n: 237, nY: 1005, xlab: [524, 1025], ylab: [432, 934.3], xt: "Factor 1 (5.26%)", yt: "Factor 2 (1.12%)" });
drawScatter({ box: [636, 789.3, 854.3, 1008.3], xDom: [-1.99, 2.94], yDom: [-2.58, 2.56], xTicks: [-1, 0, 1, 2], yTicks: [-2, -1, 0, 1, 2],
  groups: [{ pts: fE75Ecto, color: colEcto, label: "E7.5 Ectoderm" }, { pts: fE75Endo, color: colEndo, label: "E7.5 Endoderm" }, { pts: fE75Meso, color: colMeso, label: "E7.5 Mesoderm" }],
  leg: [665.7, 827.7], legStep: 11.2, n: 275, nY: 1005, xlab: [720.7, 1025], ylab: [622, 935], xt: "Factor 1 (3.58%)", yt: "Factor 2 (2.64%)" });
</script>
</body></html>
